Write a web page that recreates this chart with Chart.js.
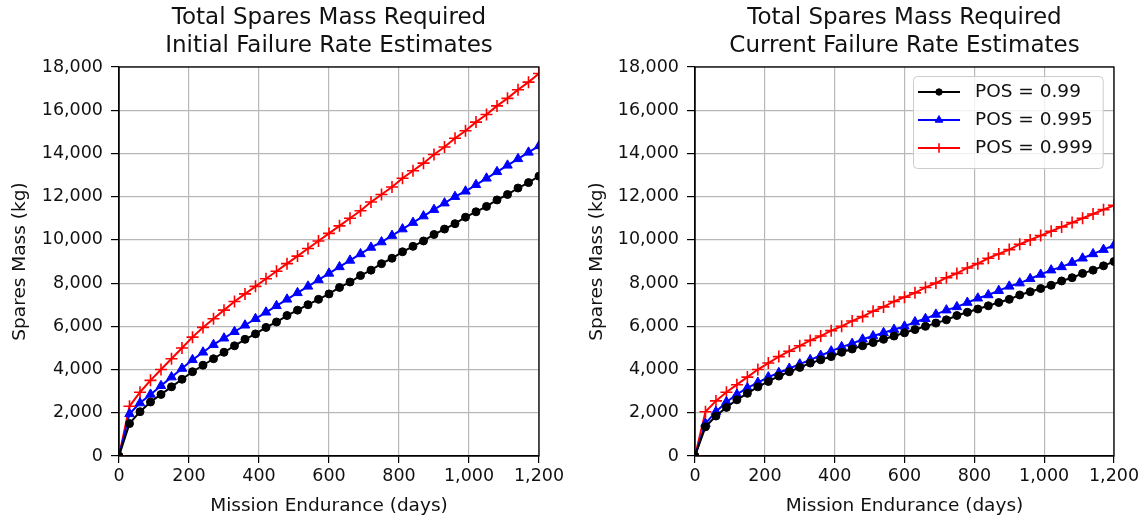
<!DOCTYPE html>
<html>
<head>
    <meta charset="utf-8" />
    <title>Total Spares Mass Required</title>
    <script src="https://cdn.jsdelivr.net/npm/chart.js@4.4.1/dist/chart.umd.min.js"></script>
    <style>
        body { margin: 0; background: #fff; }
        #dvTodas { position: relative; width: 1144px; height: 517px; }
        canvas { position: absolute; top: 0; }
        #chtInicial { left: 0; }
        #chtAtual { left: 572px; }
    </style>
</head>
<body>
    <div id="dvTodas">
        <canvas id="chtInicial" width="572" height="517"></canvas>
        <canvas id="chtAtual" width="572" height="517"></canvas>
    </div>

    <script>
        // mission endurance (days)
        const days = [0, 30, 60, 90, 120, 150, 180, 210, 240, 270, 300, 330, 360, 390, 420, 450, 480, 510, 540, 570, 600,
            630, 660, 690, 720, 750, 780, 810, 840, 870, 900, 930, 960, 990, 1020, 1050, 1080, 1110, 1140, 1170, 1200];

        // spares mass (kg) - initial failure rate estimates
        const initialPos99 = [0, 1500, 2050, 2500, 2850, 3200, 3550, 3900, 4200, 4500, 4800, 5100, 5400, 5650, 5950, 6200, 6500, 6750, 7000, 7250, 7500,
            7800, 8050, 8350, 8600, 8900, 9150, 9450, 9700, 9950, 10250, 10500, 10750, 11050, 11300, 11550, 11850, 12100, 12400, 12650, 12950];
        const initialPos995 = [0, 1950, 2450, 2850, 3250, 3650, 4050, 4450, 4800, 5150, 5450, 5750, 6050, 6350, 6650, 6950, 7250, 7550, 7850, 8150, 8450,
            8750, 9050, 9350, 9650, 9900, 10200, 10500, 10800, 11100, 11400, 11700, 12000, 12250, 12550, 12850, 13150, 13450, 13750, 14050, 14350];
        const initialPos999 = [0, 2300, 2950, 3500, 4000, 4500, 5000, 5500, 5950, 6350, 6750, 7150, 7500, 7850, 8200, 8550, 8900, 9250, 9600, 9950, 10300,
            10650, 11000, 11350, 11750, 12100, 12450, 12850, 13200, 13550, 13950, 14300, 14700, 15050, 15450, 15800, 16200, 16550, 16950, 17300, 17700];

        // spares mass (kg) - current failure rate estimates
        const currentPos99 = [0, 1350, 1850, 2250, 2600, 2900, 3200, 3450, 3700, 3900, 4100, 4300, 4450, 4600, 4800, 4950, 5100, 5250, 5400, 5550, 5700,
            5850, 6000, 6150, 6300, 6500, 6650, 6800, 6950, 7100, 7250, 7450, 7600, 7750, 7900, 8100, 8250, 8450, 8600, 8800, 9000];
        const currentPos995 = [0, 1500, 2050, 2500, 2850, 3150, 3400, 3650, 3850, 4050, 4250, 4450, 4650, 4850, 5050, 5200, 5400, 5550, 5700, 5850, 6000,
            6200, 6350, 6550, 6750, 6900, 7100, 7300, 7450, 7650, 7850, 8000, 8200, 8400, 8600, 8750, 8950, 9150, 9350, 9550, 9750];
        const currentPos999 = [0, 2050, 2550, 2950, 3300, 3650, 4000, 4300, 4600, 4850, 5100, 5350, 5550, 5800, 6000, 6250, 6450, 6700, 6900, 7150, 7350,
            7550, 7800, 8000, 8250, 8450, 8700, 8900, 9150, 9350, 9550, 9800, 10000, 10200, 10400, 10600, 10800, 11000, 11200, 11400, 11600];

        const seriesLabels = ['POS = 0.99', 'POS = 0.995', 'POS = 0.999'];
        const xTicks = { min: 0, max: 1200, step: 200 };
        const yTicks = { min: 0, max: 18000, step: 2000 };

        const FONTE = '"DejaVu Sans", sans-serif';
        const estilos = [
            { color: '#000000', pointStyle: 'circle', radius: 4, pbw: 1 },
            { color: '#0000ff', pointStyle: 'triangle', radius: 5.5, pbw: 1 },
            { color: '#ff0000', pointStyle: 'cross', radius: 6, pbw: 1.6 }
        ];

        // black box round the plot area (matplotlib spines)
        const moldura = {
            id: 'moldura',
            afterDatasetsDraw(chart) {
                const a = chart.chartArea, ctx = chart.ctx;
                ctx.save();
                ctx.strokeStyle = '#000';
                ctx.lineWidth = 1.3;
                ctx.strokeRect(a.left, a.top, a.right - a.left, a.bottom - a.top);
                ctx.restore();
            }
        };

        // legend box in the upper right corner
        const legenda = {
            id: 'legenda',
            afterDatasetsDraw(chart) {
                const a = chart.chartArea, ctx = chart.ctx;
                const sets = chart.data.datasets;
                ctx.save();
                ctx.font = '18.5px ' + FONTE;
                const tw = Math.max(...sets.map(s => ctx.measureText(s.label).width));
                const w = 5 + 42 + 15 + tw + 10, h = 92;
                const x = Math.round(a.right - 11 - w), y = Math.round(a.top + 9);
                ctx.beginPath();
                ctx.roundRect(x + 0.5, y + 0.5, w, h, 4);
                ctx.fillStyle = 'rgba(255,255,255,0.8)';
                ctx.fill();
                ctx.strokeStyle = '#cccccc';
                ctx.lineWidth = 1;
                ctx.stroke();
                sets.forEach((s, i) => {
                    const cy = y + 16 + i * 28;
                    ctx.strokeStyle = s.borderColor;
                    ctx.fillStyle = s.borderColor;
                    ctx.lineWidth = 2;
                    ctx.beginPath();
                    ctx.moveTo(x + 5, cy);
                    ctx.lineTo(x + 47, cy);
                    ctx.stroke();
                    ctx.lineWidth = s.pointBorderWidth;
                    Chart.helpers.drawPoint(ctx, {
                        pointStyle: s.pointStyle, radius: s.pointRadius * 0.8, rotation: 0, borderWidth: s.pointBorderWidth
                    }, x + 26, cy);
                    ctx.fillStyle = '#111';
                    ctx.textBaseline = 'middle';
                    ctx.textAlign = 'left';
                    ctx.fillText(s.label, x + 62, cy);
                });
                ctx.restore();
            }
        };

        function milhar(v) {
            return Number(v).toLocaleString('en-US');
        }

        function montaGrafico(canvasId, titulo, series, yWidth, yTitlePad, padRight, comLegenda) {
            const datasets = series.map((vals, i) => ({
                label: seriesLabels[i],
                data: days.map((d, j) => ({ x: d, y: vals[j] })),
                borderColor: estilos[i].color,
                backgroundColor: estilos[i].color,
                borderWidth: 2,
                pointStyle: estilos[i].pointStyle,
                pointRadius: estilos[i].radius,
                pointBackgroundColor: estilos[i].color,
                pointBorderColor: estilos[i].color,
                pointBorderWidth: estilos[i].pbw,
                tension: 0
            }));

            const grade = { color: '#b8b8b8', lineWidth: 1.2, tickColor: '#000', tickWidth: 1.2 };

            new Chart(document.getElementById(canvasId).getContext('2d'), {
                type: 'line',
                data: { datasets: datasets },
                plugins: comLegenda ? [moldura, legenda] : [moldura],
                options: {
                    responsive: false,
                    animation: false,
                    layout: { padding: { left: 0, right: padRight, top: 0, bottom: 0 } },
                    plugins: {
                        legend: { display: false },
                        tooltip: { enabled: false },
                        title: {
                            display: true,
                            text: titulo,
                            fullSize: false,
                            color: '#111',
                            font: { family: FONTE, size: 23, weight: 'normal', lineHeight: '28px' },
                            padding: { top: 4, bottom: 7 }
                        }
                    },
                    scales: {
                        x: {
                            type: 'linear',
                            min: xTicks.min,
                            max: xTicks.max,
                            ticks: {
                                stepSize: xTicks.step,
                                maxRotation: 0,
                                padding: 3,
                                color: '#111',
                                font: { family: FONTE, size: 17.5 },
                                callback: milhar
                            },
                            grid: Object.assign({ tickLength: 7 }, grade),
                            border: { color: '#000', width: 1.3 },
                            title: {
                                display: true,
                                text: 'Mission Endurance (days)',
                                color: '#111',
                                font: { family: FONTE, size: 18.5 },
                                padding: { top: 4, bottom: 0 }
                            },
                            afterFit: s => { s.height = 61; }
                        },
                        y: {
                            min: yTicks.min,
                            max: yTicks.max,
                            ticks: {
                                stepSize: yTicks.step,
                                padding: 8,
                                color: '#111',
                                font: { family: FONTE, size: 17.5 },
                                callback: milhar
                            },
                            grid: Object.assign({ tickLength: 8 }, grade),
                            border: { color: '#000', width: 1.3 },
                            title: {
                                display: true,
                                text: 'Spares Mass (kg)',
                                color: '#111',
                                font: { family: FONTE, size: 18.5 },
                                padding: { top: yTitlePad, bottom: 0 }
                            },
                            afterFit: s => { s.width = yWidth; }
                        }
                    }
                }
            });
        }

        document.addEventListener('DOMContentLoaded', function () {
            montaGrafico('chtInicial', ['Total Spares Mass Required', 'Initial Failure Rate Estimates'],
                [initialPos99, initialPos995, initialPos999], 119, 9, 33, false);
            montaGrafico('chtAtual', ['Total Spares Mass Required', 'Current Failure Rate Estimates'],
                [currentPos99, currentPos995, currentPos999], 123, 14, 30, true);
        });
    </script>
</body>
</html>
